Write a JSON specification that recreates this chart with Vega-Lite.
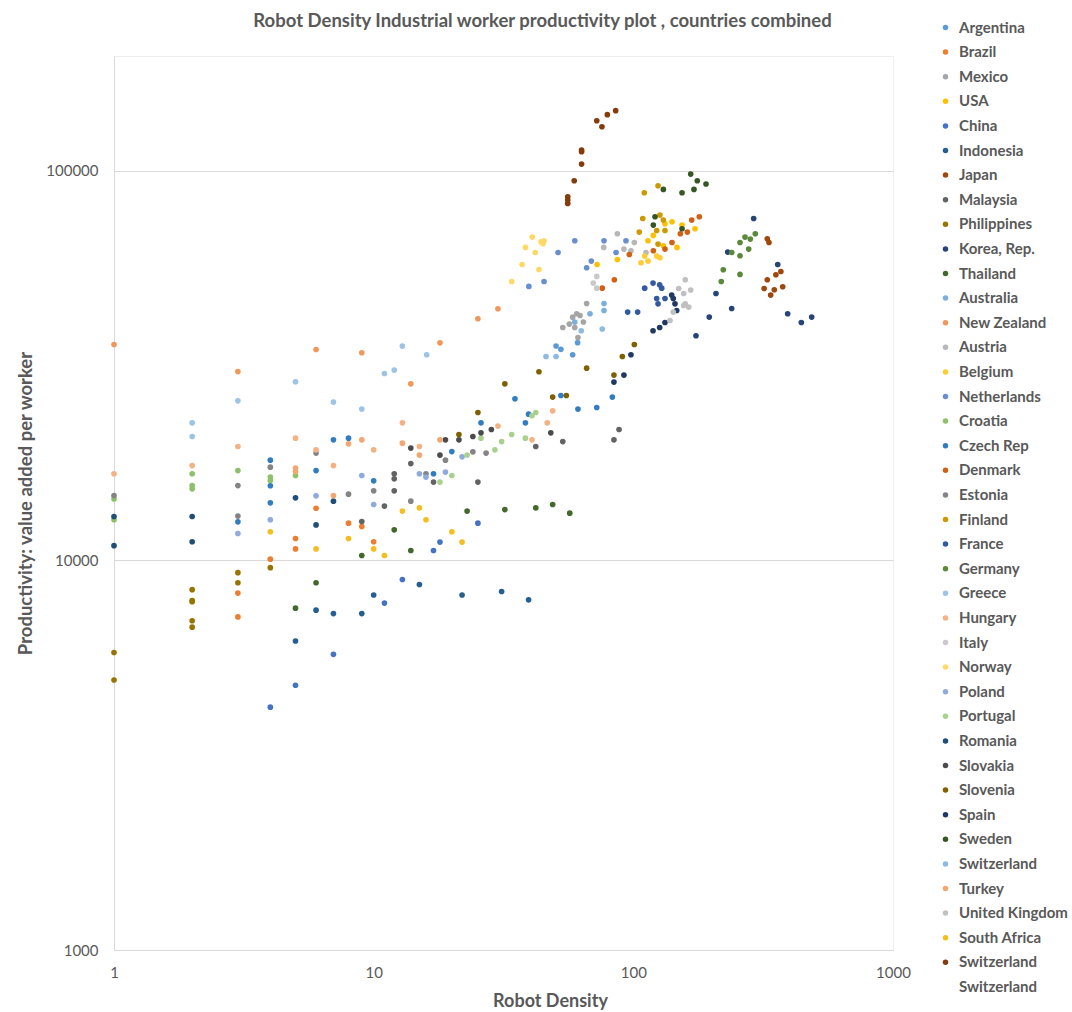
{
  "$schema": "https://vega.github.io/schema/vega-lite/v6.json",
  "autosize": {"type": "none"},
  "width": 779,
  "height": 894,
  "padding": {"left": 114, "top": 56, "right": 179, "bottom": 62},
  "background": "white",
  "config": {
    "font": "Lato",
    "view": {"stroke": "#EEEEEE", "strokeWidth": 1}
  },
  "title": {
    "text": "Robot Density Industrial worker productivity plot , countries combined",
    "fontSize": 18.5,
    "fontWeight": "bold",
    "color": "#595959",
    "anchor": "middle",
    "dx": 39,
    "offset": -10
  },
  "data": {
    "values": [
      {"c":"Argentina","x":52.6,"y":34800},{"c":"Argentina","x":58.4,"y":33700},{"c":"Argentina","x":50.4,"y":35500},{"c":"Argentina","x":61.0,"y":36200},
      {"c":"Brazil","x":3,"y":8240},{"c":"Brazil","x":3,"y":7160},{"c":"Brazil","x":4,"y":10070},{"c":"Brazil","x":5,"y":11380},{"c":"Brazil","x":5,"y":10700},{"c":"Brazil","x":6,"y":13610},{"c":"Brazil","x":8,"y":12460},{"c":"Brazil","x":9,"y":12210},{"c":"Brazil","x":10,"y":11160},
      {"c":"Mexico","x":66.1,"y":45600},{"c":"Mexico","x":60.5,"y":42950},{"c":"Mexico","x":62.3,"y":42500},{"c":"Mexico","x":58.4,"y":42100},{"c":"Mexico","x":64.2,"y":40900},{"c":"Mexico","x":56.7,"y":40400},{"c":"Mexico","x":53.5,"y":39600},{"c":"Mexico","x":59.5,"y":39600},{"c":"Mexico","x":61.2,"y":37300},
      {"c":"USA","x":140.9,"y":73970},{"c":"USA","x":154,"y":72540},{"c":"USA","x":172.8,"y":70970},{"c":"USA","x":132.4,"y":73090},{"c":"USA","x":119.4,"y":68220},{"c":"USA","x":113.9,"y":66110},{"c":"USA","x":130.5,"y":64180},{"c":"USA","x":147.3,"y":63550},{"c":"USA","x":86.8,"y":59190},{"c":"USA","x":72.5,"y":57460},
      {"c":"China","x":4,"y":4200},{"c":"China","x":5,"y":4780},{"c":"China","x":7,"y":5740},{"c":"China","x":11,"y":7770},{"c":"China","x":12.9,"y":8930},{"c":"China","x":17.0,"y":10600},{"c":"China","x":18.0,"y":11140},{"c":"China","x":25.2,"y":12460},
      {"c":"Indonesia","x":5,"y":6210},{"c":"Indonesia","x":6,"y":7450},{"c":"Indonesia","x":7,"y":7300},{"c":"Indonesia","x":9,"y":7300},{"c":"Indonesia","x":10,"y":8150},{"c":"Indonesia","x":15.0,"y":8670},{"c":"Indonesia","x":21.9,"y":8150},{"c":"Indonesia","x":31.1,"y":8320},{"c":"Indonesia","x":39.5,"y":7920},
      {"c":"Japan","x":328,"y":66890},{"c":"Japan","x":333,"y":65440},{"c":"Japan","x":370,"y":55140},{"c":"Japan","x":354,"y":54080},{"c":"Japan","x":328,"y":52510},{"c":"Japan","x":376,"y":50380},{"c":"Japan","x":349,"y":49500},{"c":"Japan","x":319,"y":49870},{"c":"Japan","x":338,"y":47960},
      {"c":"Malaysia","x":9,"y":12580},{"c":"Malaysia","x":11,"y":13780},{"c":"Malaysia","x":12,"y":16680},{"c":"Malaysia","x":12,"y":16190},{"c":"Malaysia","x":12,"y":15080},{"c":"Malaysia","x":13.9,"y":17720},{"c":"Malaysia","x":17.0,"y":15880},{"c":"Malaysia","x":25.2,"y":15880},{"c":"Malaysia","x":42.1,"y":19600},{"c":"Malaysia","x":53.5,"y":20180},{"c":"Malaysia","x":84.2,"y":20390},{"c":"Malaysia","x":88.1,"y":21670},
      {"c":"Philippines","x":1,"y":5800},{"c":"Philippines","x":1,"y":4930},{"c":"Philippines","x":2,"y":8410},{"c":"Philippines","x":2,"y":7890},{"c":"Philippines","x":2,"y":7830},{"c":"Philippines","x":2,"y":7000},{"c":"Philippines","x":2,"y":6740},{"c":"Philippines","x":3,"y":9300},{"c":"Philippines","x":3,"y":8760},{"c":"Philippines","x":4,"y":9580},
      {"c":"Korea, Rep.","x":290.7,"y":75410},{"c":"Korea, Rep.","x":359.8,"y":57460},{"c":"Korea, Rep.","x":230.9,"y":61840},{"c":"Korea, Rep.","x":208.1,"y":48420},{"c":"Korea, Rep.","x":239.2,"y":44310},{"c":"Korea, Rep.","x":196.1,"y":42110},{"c":"Korea, Rep.","x":174.3,"y":37710},{"c":"Korea, Rep.","x":392.9,"y":42950},{"c":"Korea, Rep.","x":443.6,"y":40790},{"c":"Korea, Rep.","x":486.3,"y":42110},
      {"c":"Thailand","x":5,"y":7540},{"c":"Thailand","x":6,"y":8760},{"c":"Thailand","x":9,"y":10290},{"c":"Thailand","x":12,"y":11980},{"c":"Thailand","x":13.9,"y":10600},{"c":"Thailand","x":22.9,"y":13380},{"c":"Thailand","x":32.0,"y":13500},{"c":"Thailand","x":42.1,"y":13640},{"c":"Thailand","x":48.9,"y":13910},{"c":"Thailand","x":56.9,"y":13220},
      {"c":"Australia","x":59.5,"y":40890},{"c":"Australia","x":68.1,"y":42950},{"c":"Australia","x":77.1,"y":45620},{"c":"Australia","x":77.1,"y":43780},
      {"c":"New Zealand","x":1,"y":35810},{"c":"New Zealand","x":3,"y":30520},{"c":"New Zealand","x":6,"y":34770},{"c":"New Zealand","x":9,"y":34100},{"c":"New Zealand","x":13.9,"y":28390},{"c":"New Zealand","x":18.0,"y":36170},{"c":"New Zealand","x":25.2,"y":41690},{"c":"New Zealand","x":30.1,"y":44230},
      {"c":"Austria","x":86.8,"y":68910},{"c":"Austria","x":100.9,"y":65440},{"c":"Austria","x":76.9,"y":63550},{"c":"Austria","x":92.0,"y":62950},{"c":"Austria","x":97.9,"y":62320},{"c":"Austria","x":111.9,"y":61690},
      {"c":"Belgium","x":110.6,"y":60390},{"c":"Belgium","x":123.0,"y":60390},{"c":"Belgium","x":126.6,"y":59780},{"c":"Belgium","x":107.0,"y":58040},{"c":"Belgium","x":113.9,"y":58630},
      {"c":"Netherlands","x":59.5,"y":66110},{"c":"Netherlands","x":51.3,"y":61690},{"c":"Netherlands","x":77.1,"y":66110},{"c":"Netherlands","x":85.8,"y":61690},{"c":"Netherlands","x":68.9,"y":58630},{"c":"Netherlands","x":66.1,"y":56360},{"c":"Netherlands","x":45.3,"y":51970},{"c":"Netherlands","x":39.6,"y":50470},{"c":"Netherlands","x":93.7,"y":66110},
      {"c":"Croatia","x":1,"y":14380},{"c":"Croatia","x":1,"y":12710},{"c":"Croatia","x":2,"y":16680},{"c":"Croatia","x":2,"y":15560},{"c":"Croatia","x":2,"y":15260},{"c":"Croatia","x":3,"y":17000},{"c":"Croatia","x":4,"y":16360},{"c":"Croatia","x":4,"y":16030},{"c":"Croatia","x":5,"y":16510},
      {"c":"Czech Rep","x":3,"y":12560},{"c":"Czech Rep","x":4,"y":18080},{"c":"Czech Rep","x":4,"y":15540},{"c":"Czech Rep","x":4,"y":14050},{"c":"Czech Rep","x":6,"y":17000},{"c":"Czech Rep","x":7,"y":20390},{"c":"Czech Rep","x":8,"y":20590},{"c":"Czech Rep","x":10,"y":16000},{"c":"Czech Rep","x":17.0,"y":16680},{"c":"Czech Rep","x":20.0,"y":19020},{"c":"Czech Rep","x":25.9,"y":22540},{"c":"Czech Rep","x":35.0,"y":25970},{"c":"Czech Rep","x":38.4,"y":22540},{"c":"Czech Rep","x":39.5,"y":23730},{"c":"Czech Rep","x":52.6,"y":26490},{"c":"Czech Rep","x":61.2,"y":24450},{"c":"Czech Rep","x":72.3,"y":24680},{"c":"Czech Rep","x":83.0,"y":26240},
      {"c":"Denmark","x":84.5,"y":52510},{"c":"Denmark","x":75.9,"y":49960},{"c":"Denmark","x":96.5,"y":60970},{"c":"Denmark","x":119.4,"y":62320},{"c":"Denmark","x":132.4,"y":62950},{"c":"Denmark","x":140.9,"y":65440},{"c":"Denmark","x":151.7,"y":68910},{"c":"Denmark","x":161.4,"y":69590},{"c":"Denmark","x":167.8,"y":74700},{"c":"Denmark","x":179.5,"y":76190},
      {"c":"Estonia","x":1,"y":14670},{"c":"Estonia","x":3,"y":15560},{"c":"Estonia","x":3,"y":12990},{"c":"Estonia","x":4,"y":17350},{"c":"Estonia","x":6,"y":18850},{"c":"Estonia","x":8,"y":14790},{"c":"Estonia","x":10,"y":15080},{"c":"Estonia","x":13.9,"y":14190},{"c":"Estonia","x":15.9,"y":16680},{"c":"Estonia","x":18.9,"y":18080},{"c":"Estonia","x":24.1,"y":18990},{"c":"Estonia","x":27.1,"y":18850},
      {"c":"Finland","x":124.5,"y":91520},{"c":"Finland","x":110.2,"y":87800},{"c":"Finland","x":108.7,"y":75410},{"c":"Finland","x":126.6,"y":76970},{"c":"Finland","x":105.4,"y":69590},{"c":"Finland","x":123.0,"y":70250},{"c":"Finland","x":132.4,"y":70250},{"c":"Finland","x":130.5,"y":74700},{"c":"Finland","x":124.5,"y":64830},
      {"c":"France","x":110.6,"y":49960},{"c":"France","x":119.1,"y":51480},{"c":"France","x":126.3,"y":50960},{"c":"France","x":128.6,"y":49960},{"c":"France","x":123.0,"y":47000},{"c":"France","x":124.5,"y":45540},{"c":"France","x":132.4,"y":47000},{"c":"France","x":95.1,"y":43370},{"c":"France","x":103.9,"y":43370},
      {"c":"Germany","x":294.9,"y":68910},{"c":"Germany","x":269.2,"y":67570},{"c":"Germany","x":282.1,"y":66770},{"c":"Germany","x":257.5,"y":65440},{"c":"Germany","x":239.2,"y":61690},{"c":"Germany","x":278.1,"y":62950},{"c":"Germany","x":257.5,"y":60500},{"c":"Germany","x":222.0,"y":55690},{"c":"Germany","x":257.5,"y":54180},{"c":"Germany","x":218.1,"y":51970},
      {"c":"Greece","x":2,"y":22540},{"c":"Greece","x":2,"y":20790},{"c":"Greece","x":3,"y":25670},{"c":"Greece","x":5,"y":28730},{"c":"Greece","x":7,"y":25480},{"c":"Greece","x":9,"y":24450},{"c":"Greece","x":11,"y":30170},{"c":"Greece","x":12,"y":30780},{"c":"Greece","x":12.9,"y":35470},{"c":"Greece","x":16.0,"y":33700},
      {"c":"Hungary","x":1,"y":16680},{"c":"Hungary","x":2,"y":17510},{"c":"Hungary","x":3,"y":19600},{"c":"Hungary","x":5,"y":20590},{"c":"Hungary","x":6,"y":19220},{"c":"Hungary","x":7,"y":17510},{"c":"Hungary","x":10,"y":19220},{"c":"Hungary","x":12.9,"y":22540},{"c":"Hungary","x":15.0,"y":19600},{"c":"Hungary","x":30.1,"y":22110},{"c":"Hungary","x":40.7,"y":20390},{"c":"Hungary","x":46.6,"y":22540},{"c":"Hungary","x":48.9,"y":24200},
      {"c":"Italy","x":72.3,"y":53540},{"c":"Italy","x":70.1,"y":51480},{"c":"Italy","x":72.3,"y":49960},
      {"c":"Norway","x":40.8,"y":67570},{"c":"Norway","x":44.1,"y":65720},{"c":"Norway","x":44.9,"y":64950},{"c":"Norway","x":45.3,"y":66110},{"c":"Norway","x":38.4,"y":63550},{"c":"Norway","x":41.9,"y":61690},{"c":"Norway","x":37.3,"y":57460},{"c":"Norway","x":43.3,"y":55790},{"c":"Norway","x":34.0,"y":51970},
      {"c":"Poland","x":3,"y":11720},{"c":"Poland","x":4,"y":12710},{"c":"Poland","x":6,"y":14640},{"c":"Poland","x":9,"y":16510},{"c":"Poland","x":10,"y":13910},{"c":"Poland","x":15.0,"y":16680},{"c":"Poland","x":15.9,"y":16360},{"c":"Poland","x":18.9,"y":16850},{"c":"Poland","x":21.9,"y":18440},
      {"c":"Portugal","x":18.0,"y":15880},{"c":"Portugal","x":20.0,"y":16510},{"c":"Portugal","x":22.9,"y":18630},{"c":"Portugal","x":25.9,"y":20590},{"c":"Portugal","x":29.3,"y":19220},{"c":"Portugal","x":31.1,"y":20180},{"c":"Portugal","x":34.0,"y":21040},{"c":"Portugal","x":38.4,"y":20590},{"c":"Portugal","x":40.7,"y":23500},{"c":"Portugal","x":42.1,"y":23960},
      {"c":"Romania","x":1,"y":12960},{"c":"Romania","x":1,"y":10910},{"c":"Romania","x":2,"y":12960},{"c":"Romania","x":2,"y":11160},{"c":"Romania","x":5,"y":14470},{"c":"Romania","x":6,"y":12330},{"c":"Romania","x":7,"y":14190},
      {"c":"Slovakia","x":13.9,"y":19420},{"c":"Slovakia","x":18.0,"y":18630},{"c":"Slovakia","x":18.9,"y":20390},{"c":"Slovakia","x":21.3,"y":20390},{"c":"Slovakia","x":24.1,"y":20790},{"c":"Slovakia","x":25.9,"y":21250},{"c":"Slovakia","x":28.4,"y":21670},{"c":"Slovakia","x":48.1,"y":21250},
      {"c":"Slovenia","x":21.3,"y":21040},{"c":"Slovenia","x":25.2,"y":23960},{"c":"Slovenia","x":32.0,"y":28390},{"c":"Slovenia","x":43.3,"y":30480},{"c":"Slovenia","x":48.9,"y":26240},{"c":"Slovenia","x":55.2,"y":26490},{"c":"Slovenia","x":66.1,"y":31140},{"c":"Slovenia","x":90.7,"y":33360},{"c":"Slovenia","x":100.9,"y":35810},{"c":"Slovenia","x":84.2,"y":29890},
      {"c":"Spain","x":140.5,"y":47960},{"c":"Spain","x":142.5,"y":47000},{"c":"Spain","x":144.7,"y":45540},{"c":"Spain","x":146.9,"y":43780},{"c":"Spain","x":132.4,"y":40790},{"c":"Spain","x":126.3,"y":39600},{"c":"Spain","x":119.1,"y":38840},{"c":"Spain","x":97.9,"y":33700},{"c":"Spain","x":92.0,"y":29890},{"c":"Spain","x":84.2,"y":28680},
      {"c":"Sweden","x":166.3,"y":98060},{"c":"Sweden","x":176.3,"y":94260},{"c":"Sweden","x":190.5,"y":92440},{"c":"Sweden","x":130.5,"y":89540},{"c":"Sweden","x":154,"y":87800},{"c":"Sweden","x":171.2,"y":89540},{"c":"Sweden","x":121.2,"y":76190},{"c":"Sweden","x":119.4,"y":72540},{"c":"Sweden","x":154,"y":70970},
      {"c":"Switzerland","x":50.4,"y":33360},{"c":"Switzerland","x":46.1,"y":33360},{"c":"Switzerland","x":75.9,"y":39240},{"c":"Switzerland","x":63.0,"y":38840},
      {"c":"Turkey","x":5,"y":17250},{"c":"Turkey","x":5,"y":16900},{"c":"Turkey","x":8,"y":19910},{"c":"Turkey","x":9,"y":20390},{"c":"Turkey","x":7,"y":14670},{"c":"Turkey","x":12.9,"y":19990},{"c":"Turkey","x":15.0,"y":18630},{"c":"Turkey","x":18.0,"y":20390},
      {"c":"United Kingdom","x":158.5,"y":52510},{"c":"United Kingdom","x":149.5,"y":49870},{"c":"United Kingdom","x":166.3,"y":49410},{"c":"United Kingdom","x":156.3,"y":48420},{"c":"United Kingdom","x":158.5,"y":45540},{"c":"United Kingdom","x":163.4,"y":44680},{"c":"United Kingdom","x":156.3,"y":45100},{"c":"United Kingdom","x":142.5,"y":43370},{"c":"United Kingdom","x":138.4,"y":41280},
      {"c":"South Africa","x":4,"y":11840},{"c":"South Africa","x":6,"y":10700},{"c":"South Africa","x":8,"y":11380},{"c":"South Africa","x":10,"y":10700},{"c":"South Africa","x":11,"y":10290},{"c":"South Africa","x":12.9,"y":13380},{"c":"South Africa","x":15.0,"y":13640},{"c":"South Africa","x":15.9,"y":12710},{"c":"South Africa","x":20.0,"y":11840},{"c":"South Africa","x":21.9,"y":11140},
      {"c":"Switzerland ","x":85.5,"y":142600},{"c":"Switzerland ","x":79.4,"y":139300},{"c":"Switzerland ","x":72.3,"y":134400},{"c":"Switzerland ","x":75.7,"y":129700},{"c":"Switzerland ","x":63.2,"y":113000},{"c":"Switzerland ","x":63.2,"y":111900},{"c":"Switzerland ","x":63.2,"y":104000},{"c":"Switzerland ","x":59.2,"y":94260},{"c":"Switzerland ","x":55.9,"y":85740},{"c":"Switzerland ","x":55.9,"y":84100},{"c":"Switzerland ","x":55.9,"y":82420}
    ]
  },
  "mark": {"type": "point", "filled": true, "size": 32, "opacity": 1, "strokeWidth": 0},
  "encoding": {
    "x": {
      "field": "x", "type": "quantitative",
      "scale": {"type": "log", "domain": [1, 1000], "nice": false},
      "axis": {
        "title": "Robot Density", "values": [1, 10, 100, 1000], "format": "d",
        "grid": false, "ticks": false, "domainColor": "#D9D9D9",
        "labelFontSize": 15, "labelColor": "#595959", "labelPadding": 15, "labelFlush": false,
        "titleFontSize": 18, "titleFontWeight": "bold", "titleColor": "#595959", "titlePadding": 12,
        "titleX": 436
      }
    },
    "y": {
      "field": "y", "type": "quantitative",
      "scale": {"type": "log", "domain": [1000, 197000], "nice": false},
      "axis": {
        "title": "Productivity: value added per worker", "values": [1000, 10000, 100000], "format": "d",
        "grid": true, "gridColor": "#D9D9D9", "ticks": false, "domainColor": "#D9D9D9",
        "labelFontSize": 15, "labelColor": "#595959", "labelPadding": 16,
        "titleFontSize": 18.5, "titleFontWeight": "bold", "titleColor": "#595959", "titlePadding": 10
      }
    },
    "color": {
      "field": "c", "type": "nominal",
      "scale": {
        "domain": ["Argentina","Brazil","Mexico","USA","China","Indonesia","Japan","Malaysia","Philippines","Korea, Rep.","Thailand","Australia","New Zealand","Austria","Belgium","Netherlands","Croatia","Czech Rep","Denmark","Estonia","Finland","France","Germany","Greece","Hungary","Italy","Norway","Poland","Portugal","Romania","Slovakia","Slovenia","Spain","Sweden","Switzerland","Turkey","United Kingdom","South Africa","Switzerland ","Switzerland  "],
        "range": ["#5B9BD5","#ED7D31","#A5A5A5","#FFC000","#4472C4","#255E91","#9E480E","#636363","#997300","#264478","#43682B","#7CAFDD","#F1975A","#B7B7B7","#FFCD33","#698ED0","#8CC168","#327DC2","#D26012","#848484","#CC9A00","#335AA1","#5A8A39","#9DC3E6","#F4B183","#C9C9C9","#FFD966","#8FAADC","#A9D18E","#1F4E79","#4B4B4B","#7F6000","#203864","#375623","#8DB9E2","#F3A66F","#C0C0C0","#F5BD1F","#843C0C","rgba(0,0,0,0)"]
      },
      "legend": {
        "title": null,
        "orient": "none",
        "direction": "vertical",
        "legendX": 824,
        "legendY": -36,
        "symbolLimit": 60,
        "symbolType": "circle",
        "symbolSize": 30,
        "symbolStrokeWidth": 0,
        "labelFontSize": 15,
        "labelFontWeight": "bold",
        "labelColor": "#595959",
        "labelOffset": 6,
        "labelLimit": 200,
        "rowPadding": 8.6
      }
    }
  }
}
